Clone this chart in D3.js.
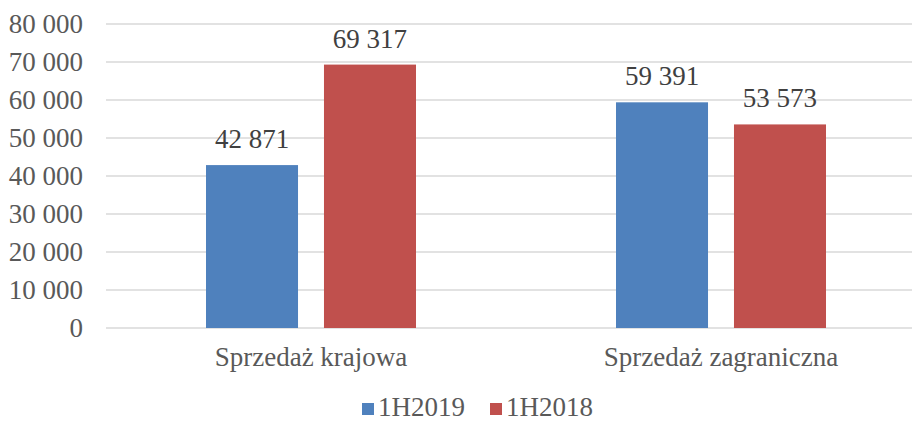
<!DOCTYPE html>
<html>
<head>
<meta charset="utf-8">
<script src="https://cdn.jsdelivr.net/npm/d3@7"></script>
</head>
<body style="margin:0">
<script>
  var categories = ["Sprzedaż krajowa", "Sprzedaż zagraniczna"];
  var seriesNames = ["1H2019", "1H2018"];
  var values2019 = [42871, 59391];
  var values2018 = [69317, 53573];
  var yTicks = [0, 10000, 20000, 30000, 40000, 50000, 60000, 70000, 80000];
  var colors = ["#4F81BD", "#C0504D"];

  var width = 912, height = 421;
  var plot = { left: 106, right: 926, top: 24, bottom: 328 };
  var serif = "'Liberation Serif'";
  var fontSize = 27;

  var svg = d3.select('body')
    .append('svg')
    .attr('width', width)
    .attr('height', height)
    .style('font-family', serif);

  var xScale = d3.scaleBand()
    .domain(categories)
    .range([plot.left, plot.right]);

  var xInner = d3.scaleBand()
    .domain(seriesNames)
    .range([100, 310])
    .paddingInner(0.22);

  var yScale = d3.scaleLinear()
    .domain([0, 80000])
    .range([plot.bottom, plot.top]);

  var fmt = v => d3.format(",")(v).replace(/,/g, " ");

  // gridlines
  svg.append('g')
    .selectAll('line')
    .data(yTicks)
    .enter().append('line')
    .attr('x1', plot.left)
    .attr('x2', width)
    .attr('y1', d => yScale(d))
    .attr('y2', d => yScale(d))
    .attr('stroke', '#d9d9d9')
    .attr('stroke-width', 1.3);

  // y axis labels
  svg.append('g')
    .selectAll('text')
    .data(yTicks)
    .enter().append('text')
    .attr('x', plot.left - 23)
    .attr('y', d => yScale(d) + 9)
    .attr('text-anchor', 'end')
    .attr('fill', '#595959')
    .attr('font-family', serif)
    .attr('font-size', fontSize)
    .text(fmt);

  var table = categories.map((c, i) => ({ cat: c, vals: [values2019[i], values2018[i]] }));

  var groups = svg.selectAll('.grp')
    .data(table)
    .enter().append('g')
    .attr('transform', d => 'translate(' + xScale(d.cat) + ',0)');

  groups.selectAll('rect')
    .data(d => d.vals.map((v, j) => ({ name: seriesNames[j], v: v, j: j })))
    .enter().append('rect')
    .attr('x', d => xInner(d.name))
    .attr('y', d => yScale(d.v))
    .attr('width', xInner.bandwidth())
    .attr('height', d => yScale(0) - yScale(d.v))
    .attr('fill', d => colors[d.j]);

  groups.selectAll('.lbl')
    .data(d => d.vals.map((v, j) => ({ name: seriesNames[j], v: v })))
    .enter().append('text')
    .attr('x', d => xInner(d.name) + xInner.bandwidth() / 2)
    .attr('y', d => yScale(d.v) - 17)
    .attr('text-anchor', 'middle')
    .attr('fill', '#404040')
    .attr('font-family', serif)
    .attr('font-size', fontSize)
    .text(d => fmt(d.v));

  // category labels
  svg.selectAll('.cat')
    .data(categories)
    .enter().append('text')
    .attr('x', d => xScale(d) + xScale.bandwidth() / 2)
    .attr('y', 366)
    .attr('text-anchor', 'middle')
    .attr('fill', '#595959')
    .attr('font-family', serif)
    .attr('font-size', fontSize)
    .text(d => d);

  // legend
  var legendX = [362, 490];
  var legend = svg.selectAll('.leg')
    .data(seriesNames)
    .enter().append('g')
    .attr('transform', (d, i) => 'translate(' + legendX[i] + ',403)');
  legend.append('rect')
    .attr('width', 12)
    .attr('height', 12)
    .attr('fill', (d, i) => colors[i]);
  legend.append('text')
    .attr('x', 16)
    .attr('y', 13)
    .attr('fill', '#595959')
    .attr('font-family', serif)
    .attr('font-size', fontSize)
    .text(d => d);
</script>
</body>
</html>
